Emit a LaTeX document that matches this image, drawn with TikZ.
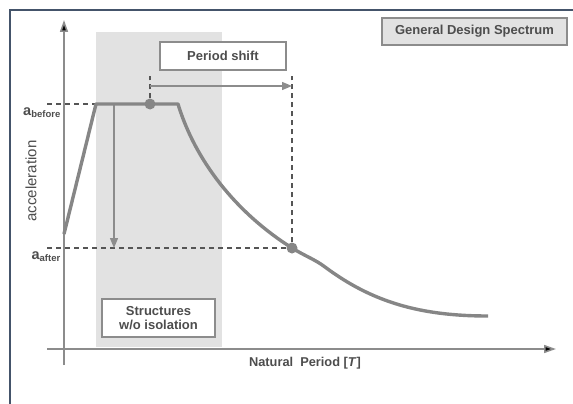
\documentclass[tikz,border=0pt]{standalone}
\usepackage{fontspec}
\setmainfont{Liberation Sans}
\usetikzlibrary{arrows.meta}
\definecolor{frameblue}{HTML}{44546A}
\definecolor{curvegray}{HTML}{868686}
\definecolor{axisgray}{HTML}{8C8C8C}
\definecolor{dashgray}{HTML}{555555}
\definecolor{txtgray}{HTML}{4D4D4D}
\definecolor{shadegray}{HTML}{E2E2E2}
\tikzset{
  lbl/.style={font=\bfseries\fontsize{12.8}{14}\selectfont, text=txtgray, inner sep=0pt},
  labelbox/.style={draw=axisgray, line width=1.3pt, fill=white, font=\bfseries\fontsize{13}{15}\selectfont, text=txtgray, align=center, inner sep=0pt},
  axisline/.style={draw=axisgray, line width=1.6pt},
  dashline/.style={draw=dashgray, line width=1.3pt, dash pattern=on 5pt off 4pt},
  grayarrow/.style={draw=axisgray, line width=1.4pt, -{Triangle[length=10pt,width=8pt,fill=axisgray]}},
  dot/.style={circle, fill=curvegray, minimum size=11pt, inner sep=0pt},
}
\begin{document}
\begin{tikzpicture}[x=1pt,y=-1pt]
\useasboundingbox (0,0) rectangle (573,404);
% frame
\draw[frameblue, line width=2.5pt] (10,404) -- (10,10) -- (573,10);
% shaded region
\fill[shadegray] (96,32) rectangle (222,347);
% axes
\coordinate (yb) at (64,365);
\coordinate (yt) at (64,20);
\coordinate (xl) at (47,349);
\coordinate (xr) at (556,349);
\draw[axisline, -{Triangle[length=12pt,width=8pt,fill=black]}] (yb) -- (yt);
\draw[axisline, -{Triangle[length=12pt,width=8pt,fill=black]}] (xl) -- (xr);
% points
\coordinate (before0) at (47,104);
\coordinate (after0) at (47,248);
\node[dot] (d1) at (150,104) {};
\node[dot] (d2) at (292,248) {};
\coordinate (d1top) at (150,76);
\coordinate (d2top) at (292,76);
\coordinate (arrS) at (150,86);
\coordinate (arrE) at (292,86);
\coordinate (vA) at (114,104);
\coordinate (vB) at (114,248);
% dashed lines
\draw[dashline] (before0) -- (d1.west);
\draw[dashline] (d1.north) -- (d1top);
\draw[dashline] (after0) -- (d2.west);
\draw[dashline] (d2.north) -- (d2top);
% arrows
\draw[grayarrow] (arrS) -- (arrE);
\draw[grayarrow] (vA) -- (vB);
% curve
\draw[curvegray, line width=3.4pt, line join=round]
  (64,234) -- (96,104) -- (178,104)
  .. controls (195,160) and (235,212) .. (292,248)
  .. controls (305,256) and (316,260) .. (325,267)
  .. controls (372,302) and (420,316) .. (488,316);
% labels
\node[labelbox, minimum width=126pt, minimum height=28pt] (ps) at (223,56) {Period shift};
\node[labelbox, fill=shadegray, minimum width=185pt, minimum height=27pt] (gds) at (474.5,31.5) {General Design Spectrum};
\node[labelbox, minimum width=113pt, minimum height=38pt] (str) at (158.5,318) {Structures\\[-1pt]w/o isolation};
\node[lbl, anchor=east, font=\bfseries\fontsize{14.5}{16}\selectfont] (ab) at (61,113) {a\textsubscript{\fontsize{9.5}{10}\selectfont before}};
\node[lbl, anchor=east, font=\bfseries\fontsize{14.5}{16}\selectfont] (aa) at (61,257) {a\textsubscript{\fontsize{9.5}{10}\selectfont after}};
\node[lbl, rotate=90, font=\fontsize{15}{16}\selectfont] (acc) at (31,181) {acceleration};
\node[lbl] (np) at (305,363) {Natural\ \ Period [\textit{T}]};
\end{tikzpicture}
\end{document}
